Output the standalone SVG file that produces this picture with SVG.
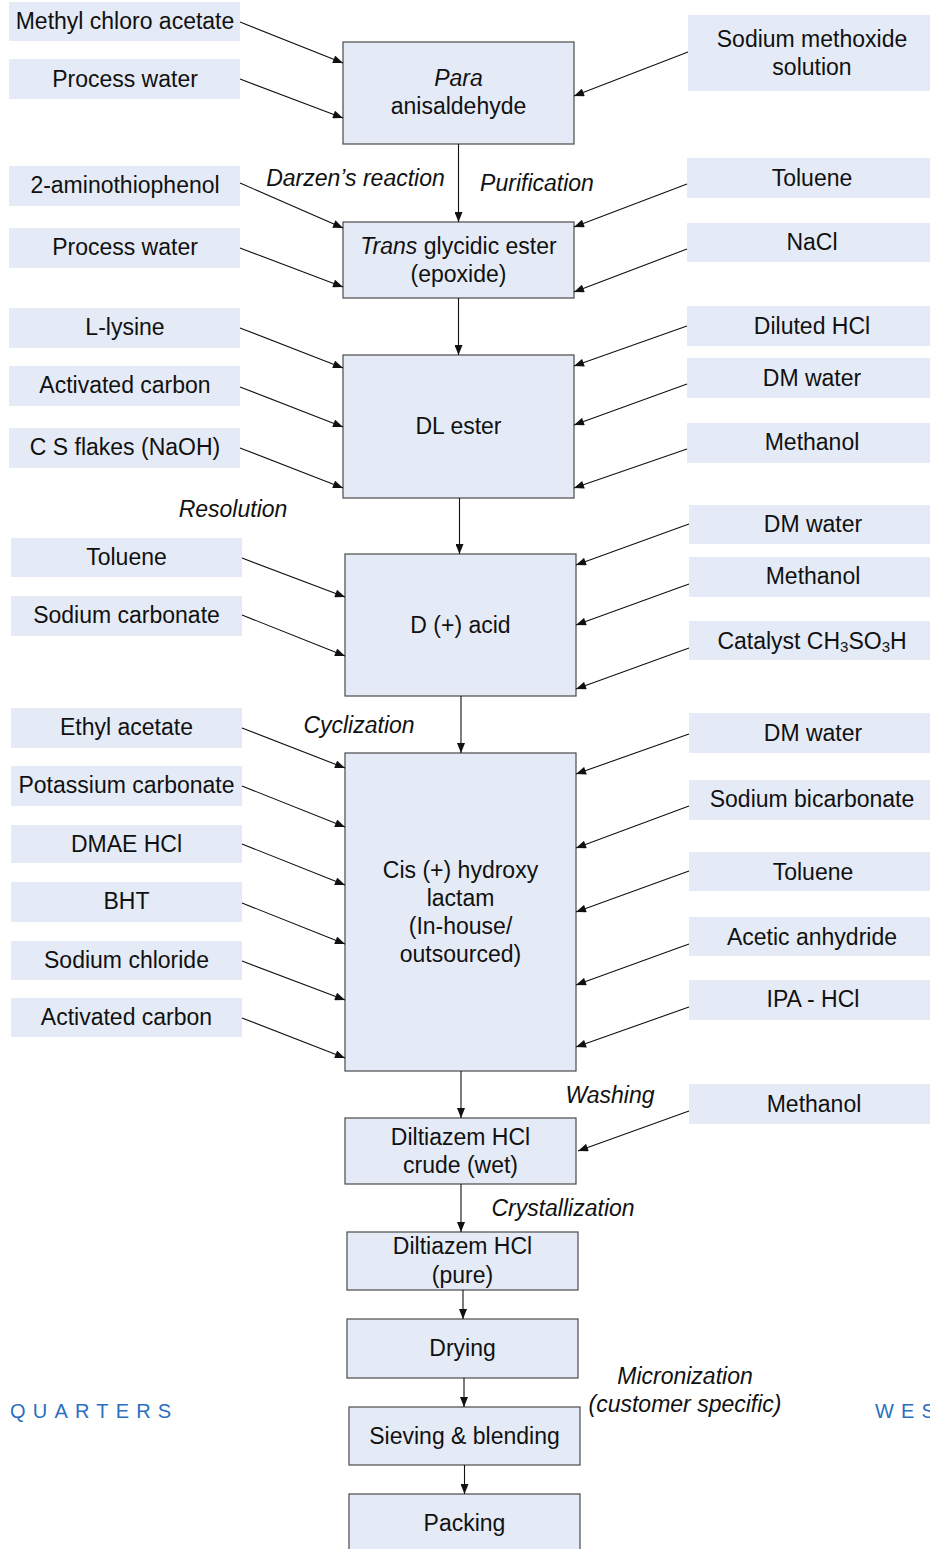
<svg xmlns="http://www.w3.org/2000/svg" width="930" height="1549" viewBox="0 0 930 1549">
<style>
text{font-family:"Liberation Sans",Arial,sans-serif;font-size:23px;fill:#111;text-anchor:middle;dominant-baseline:central}
.in{fill:#e5ebf6;stroke:none}
.mn{fill:#e5ebf6;stroke:#4a4a4a;stroke-width:1.2}
.lb{font-style:italic}
.wm{fill:#2a6fc0;font-size:20px;letter-spacing:7.2px;text-anchor:start}
.c line{stroke:#111;stroke-width:1.1;marker-end:url(#ah)}
</style>
<defs>
<marker id="ah" viewBox="0 0 10 8" refX="10" refY="4" markerWidth="11" markerHeight="8" orient="auto" markerUnits="userSpaceOnUse"><path d="M0,0 L10,4 L0,8 z" fill="#111"/></marker>
</defs>
<rect width="930" height="1549" fill="#fff"/>

<!-- watermark fragments -->
<text class="wm" x="10" y="1411">QUARTERS</text>
<text class="wm" x="875" y="1411">WES</text>

<!-- main process boxes -->
<g id="n-para"><rect class="mn" x="343" y="42" width="231" height="102"/><text x="458.5" y="78" class="lb">Para</text><text x="458.5" y="106">anisaldehyde</text></g>
<g id="n-trans"><rect class="mn" x="343" y="222" width="231" height="76"/><text x="458.5" y="246"><tspan font-style="italic">Trans</tspan> glycidic ester</text><text x="458.5" y="274">(epoxide)</text></g>
<g id="n-dl"><rect class="mn" x="343" y="355" width="231" height="143"/><text x="458.5" y="426">DL ester</text></g>
<g id="n-dacid"><rect class="mn" x="345" y="554" width="231" height="142"/><text x="460.5" y="625">D (+) acid</text></g>
<g id="n-cis"><rect class="mn" x="345" y="753" width="231" height="318"/><text x="460.5" y="870">Cis (+) hydroxy</text><text x="460.5" y="898">lactam</text><text x="460.5" y="926">(In-house/</text><text x="460.5" y="954">outsourced)</text></g>
<g id="n-crude"><rect class="mn" x="345" y="1118" width="231" height="66"/><text x="460.5" y="1137">Diltiazem HCl</text><text x="460.5" y="1165">crude (wet)</text></g>
<g id="n-pure"><rect class="mn" x="347" y="1232" width="231" height="58"/><text x="462.5" y="1246">Diltiazem HCl</text><text x="462.5" y="1275">(pure)</text></g>
<g id="n-drying"><rect class="mn" x="347" y="1319" width="231" height="59"/><text x="462.5" y="1348">Drying</text></g>
<g id="n-sieving"><rect class="mn" x="349" y="1407" width="231" height="58"/><text x="464.5" y="1436">Sieving &amp; blending</text></g>
<g id="n-packing"><rect class="mn" x="349" y="1494" width="231" height="70"/><text x="464.5" y="1523">Packing</text></g>

<!-- left inputs -->
<g id="l1"><rect class="in" x="9" y="2" width="231" height="39"/><text x="125" y="21">Methyl chloro acetate</text></g>
<g id="l2"><rect class="in" x="9" y="59" width="231" height="40"/><text x="125" y="79">Process water</text></g>
<g id="l3"><rect class="in" x="9" y="166" width="231" height="40"/><text x="125" y="185">2-aminothiophenol</text></g>
<g id="l4"><rect class="in" x="9" y="228" width="231" height="40"/><text x="125" y="247">Process water</text></g>
<g id="l5"><rect class="in" x="9" y="308" width="231" height="40"/><text x="125" y="327">L-lysine</text></g>
<g id="l6"><rect class="in" x="9" y="366" width="231" height="40"/><text x="125" y="385">Activated carbon</text></g>
<g id="l7"><rect class="in" x="9" y="428" width="231" height="40"/><text x="125" y="447">C S flakes (NaOH)</text></g>
<g id="l8"><rect class="in" x="11" y="538" width="231" height="39"/><text x="126.5" y="557">Toluene</text></g>
<g id="l9"><rect class="in" x="11" y="596" width="231" height="40"/><text x="126.5" y="615">Sodium carbonate</text></g>
<g id="l10"><rect class="in" x="11" y="708" width="231" height="40"/><text x="126.5" y="727">Ethyl acetate</text></g>
<g id="l11"><rect class="in" x="11" y="766" width="231" height="40"/><text x="126.5" y="785">Potassium carbonate</text></g>
<g id="l12"><rect class="in" x="11" y="825" width="231" height="38"/><text x="126.5" y="844">DMAE HCl</text></g>
<g id="l13"><rect class="in" x="11" y="882" width="231" height="40"/><text x="126.5" y="901">BHT</text></g>
<g id="l14"><rect class="in" x="11" y="941" width="231" height="39"/><text x="126.5" y="960">Sodium chloride</text></g>
<g id="l15"><rect class="in" x="11" y="998" width="231" height="39"/><text x="126.5" y="1017">Activated carbon</text></g>

<!-- right inputs -->
<g id="r1"><rect class="in" x="688" y="15" width="250" height="76"/><text x="812" y="39">Sodium methoxide</text><text x="812" y="67">solution</text></g>
<g id="r2"><rect class="in" x="687" y="158" width="250" height="40"/><text x="812" y="178">Toluene</text></g>
<g id="r3"><rect class="in" x="687" y="223" width="250" height="39"/><text x="812" y="242">NaCl</text></g>
<g id="r4"><rect class="in" x="687" y="306" width="250" height="40"/><text x="812" y="326">Diluted HCl</text></g>
<g id="r5"><rect class="in" x="687" y="358" width="250" height="40"/><text x="812" y="378">DM water</text></g>
<g id="r6"><rect class="in" x="687" y="423" width="250" height="40"/><text x="812" y="442">Methanol</text></g>
<g id="r7"><rect class="in" x="689" y="505" width="250" height="39"/><text x="813" y="524">DM water</text></g>
<g id="r8"><rect class="in" x="689" y="557" width="250" height="40"/><text x="813" y="576">Methanol</text></g>
<g id="r9"><rect class="in" x="689" y="621" width="250" height="39"/><text x="812" y="641">Catalyst CH<tspan font-size="15" dy="5">3</tspan><tspan dy="-5">SO</tspan><tspan font-size="15" dy="5">3</tspan><tspan dy="-5">H</tspan></text></g>
<g id="r10"><rect class="in" x="689" y="713" width="250" height="40"/><text x="813" y="733">DM water</text></g>
<g id="r11"><rect class="in" x="689" y="780" width="250" height="40"/><text x="812" y="799">Sodium bicarbonate</text></g>
<g id="r12"><rect class="in" x="689" y="852" width="250" height="39"/><text x="813" y="872">Toluene</text></g>
<g id="r13"><rect class="in" x="689" y="917" width="250" height="39"/><text x="812" y="937">Acetic anhydride</text></g>
<g id="r14"><rect class="in" x="689" y="980" width="250" height="40"/><text x="813" y="999">IPA - HCl</text></g>
<g id="r15"><rect class="in" x="689" y="1084" width="250" height="40"/><text x="814" y="1104">Methanol</text></g>

<!-- step labels -->
<g id="labels">
<text class="lb" x="355.5" y="178">Darzen’s reaction</text>
<text class="lb" x="537" y="183">Purification</text>
<text class="lb" x="233" y="509">Resolution</text>
<text class="lb" x="359" y="725">Cyclization</text>
<text class="lb" x="610" y="1095">Washing</text>
<text class="lb" x="563" y="1208">Crystallization</text>
<text class="lb" x="685" y="1376">Micronization</text>
<text class="lb" x="685" y="1404">(customer specific)</text>
</g>

<!-- connectors -->
<g id="connectors" class="c">
<line x1="458.5" y1="144" x2="458.5" y2="222"/>
<line x1="458.5" y1="298" x2="458.5" y2="355"/>
<line x1="459.5" y1="498" x2="459.5" y2="554"/>
<line x1="461" y1="696" x2="461" y2="753"/>
<line x1="461" y1="1071" x2="461" y2="1118"/>
<line x1="461" y1="1184" x2="461" y2="1232"/>
<line x1="463" y1="1290" x2="463" y2="1319"/>
<line x1="464" y1="1378" x2="464" y2="1407"/>
<line x1="464.5" y1="1465" x2="464.5" y2="1494"/>

<line x1="240" y1="22" x2="343" y2="63"/>
<line x1="240" y1="79" x2="343" y2="118"/>
<line x1="240" y1="183" x2="343" y2="228"/>
<line x1="240" y1="248" x2="343" y2="287"/>
<line x1="240" y1="328" x2="343" y2="368"/>
<line x1="240" y1="387" x2="343" y2="427"/>
<line x1="240" y1="448" x2="343" y2="488"/>
<line x1="242" y1="558" x2="345" y2="597"/>
<line x1="242" y1="615" x2="345" y2="656"/>
<line x1="242" y1="728" x2="345" y2="768"/>
<line x1="242" y1="786" x2="345" y2="827"/>
<line x1="242" y1="844" x2="345" y2="885"/>
<line x1="242" y1="903" x2="345" y2="944"/>
<line x1="242" y1="961" x2="345" y2="1000"/>
<line x1="242" y1="1018" x2="345" y2="1058"/>

<line x1="688" y1="52" x2="574" y2="96"/>
<line x1="687" y1="184" x2="574" y2="227"/>
<line x1="687" y1="249" x2="574" y2="292"/>
<line x1="687" y1="326" x2="574" y2="366"/>
<line x1="687" y1="384" x2="574" y2="425"/>
<line x1="687" y1="449" x2="574" y2="488"/>
<line x1="689" y1="524" x2="576" y2="565"/>
<line x1="689" y1="584" x2="576" y2="625"/>
<line x1="689" y1="648" x2="576" y2="689"/>
<line x1="689" y1="734" x2="576" y2="774"/>
<line x1="689" y1="806" x2="576" y2="848"/>
<line x1="689" y1="871" x2="576" y2="912"/>
<line x1="689" y1="944" x2="576" y2="985"/>
<line x1="689" y1="1007" x2="576" y2="1047"/>
<line x1="689" y1="1111" x2="578" y2="1151"/>
</g>
</svg>
